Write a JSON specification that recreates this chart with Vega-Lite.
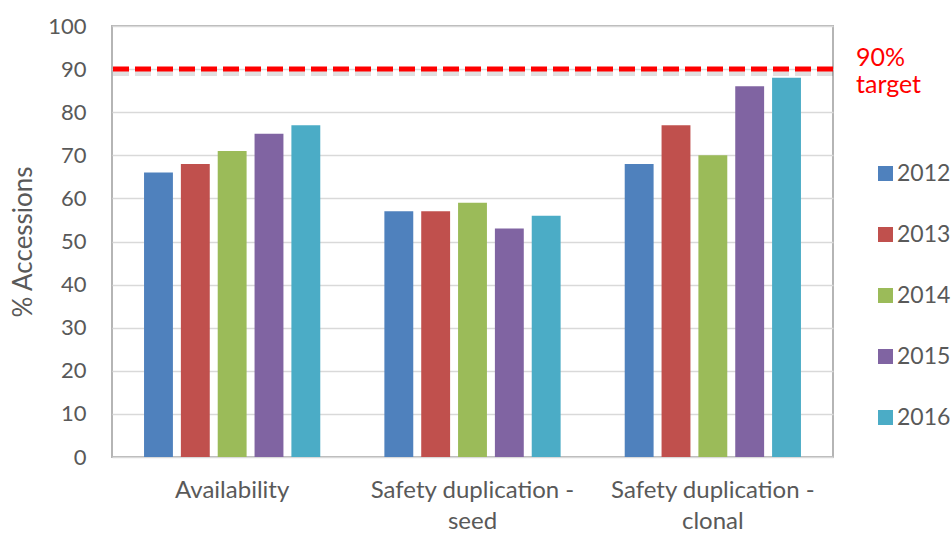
{
  "$schema": "https://vega.github.io/schema/vega-lite/v6.json",
  "width": 721,
  "height": 431,
  "autosize": {"type": "none"},
  "padding": {"left": 112, "top": 26, "right": 118, "bottom": 77},
  "background": "white",
  "config": {
    "font": "Lato",
    "view": {"stroke": "#b5b5b5", "strokeWidth": 2},
    "axis": {
      "labelColor": "#595959",
      "titleColor": "#595959",
      "labelFont": "Lato",
      "titleFont": "Lato",
      "labelFontSize": 22,
      "titleFontWeight": "normal",
      "domain": false,
      "ticks": false,
      "tickSize": 0,
      "labelLimit": 0
    },
    "legend": {"labelFont": "Lato", "labelColor": "#595959", "padding": 0}
  },
  "datasets": {
    "accessions": [
      {"category": "Availability", "year": "2012", "value": 66},
      {"category": "Availability", "year": "2013", "value": 68},
      {"category": "Availability", "year": "2014", "value": 71},
      {"category": "Availability", "year": "2015", "value": 75},
      {"category": "Availability", "year": "2016", "value": 77},
      {"category": "Safety duplication - seed", "year": "2012", "value": 57},
      {"category": "Safety duplication - seed", "year": "2013", "value": 57},
      {"category": "Safety duplication - seed", "year": "2014", "value": 59},
      {"category": "Safety duplication - seed", "year": "2015", "value": 53},
      {"category": "Safety duplication - seed", "year": "2016", "value": 56},
      {"category": "Safety duplication - clonal", "year": "2012", "value": 68},
      {"category": "Safety duplication - clonal", "year": "2013", "value": 77},
      {"category": "Safety duplication - clonal", "year": "2014", "value": 70},
      {"category": "Safety duplication - clonal", "year": "2015", "value": 86},
      {"category": "Safety duplication - clonal", "year": "2016", "value": 88}
    ],
    "target": [{"value": 90, "label": "90% target"}]
  },
  "layer": [
    {
      "data": {"name": "accessions"},
      "mark": {"type": "bar"},
      "encoding": {
        "x": {
          "field": "category",
          "type": "nominal",
          "sort": null,
          "scale": {"paddingInner": 0.2667, "paddingOuter": 0.1333},
          "axis": {
            "title": null,
            "labelAngle": 0,
            "labelFontSize": 24,
            "labelPadding": 21,
            "labelLineHeight": 31,
            "labelBaseline": "top",
            "labelLimit": 0,
            "labelExpr": "indexof(datum.label, ' - ') > 0 ? [slice(datum.label, 0, indexof(datum.label, ' - ') + 2), slice(datum.label, indexof(datum.label, ' - ') + 3)] : datum.label"
          }
        },
        "xOffset": {
          "field": "year",
          "type": "nominal",
          "scale": {"paddingInner": 0.216, "paddingOuter": 0}
        },
        "y": {
          "field": "value",
          "type": "quantitative",
          "scale": {"domain": [0, 100]},
          "axis": {
            "title": "% Accessions",
            "titleFontSize": 26,
            "titlePadding": 11,
            "values": [0, 10, 20, 30, 40, 50, 60, 70, 80, 90, 100],
            "labelPadding": 26,
            "gridColor": "#d9d9d9",
            "gridWidth": 1.5
          }
        },
        "color": {
          "field": "year",
          "type": "nominal",
          "scale": {
            "domain": ["2012", "2013", "2014", "2015", "2016"],
            "range": ["#4f81bd", "#c0504d", "#9bbb59", "#8064a2", "#4bacc6"]
          },
          "legend": {
            "title": null,
            "orient": "none",
            "legendX": 762,
            "legendY": 136,
            "symbolType": "square",
            "symbolSize": 225,
            "symbolStrokeWidth": 0,
            "labelFontSize": 23,
            "labelOffset": 0,
            "labelLimit": 0,
            "rowPadding": 37
          }
        }
      }
    },
    {
      "data": {"name": "target"},
      "mark": {
        "type": "rule",
        "color": "#000000",
        "opacity": 0.12,
        "strokeWidth": 6,
        "strokeDash": [16, 6],
        "yOffset": 4
      },
      "encoding": {"y": {"field": "value", "type": "quantitative"}}
    },
    {
      "data": {"name": "target"},
      "mark": {
        "type": "rule",
        "color": "#ff0000",
        "strokeWidth": 5,
        "strokeDash": [16, 6]
      },
      "encoding": {"y": {"field": "value", "type": "quantitative"}}
    },
    {
      "data": {"name": "target"},
      "mark": {
        "type": "text",
        "color": "#ff0000",
        "font": "Lato",
        "fontSize": 25,
        "align": "left",
        "baseline": "alphabetic",
        "lineBreak": " ",
        "lineHeight": 27,
        "dy": -3
      },
      "encoding": {
        "y": {"field": "value", "type": "quantitative"},
        "x": {"value": 744},
        "text": {"field": "label"}
      }
    }
  ]
}
